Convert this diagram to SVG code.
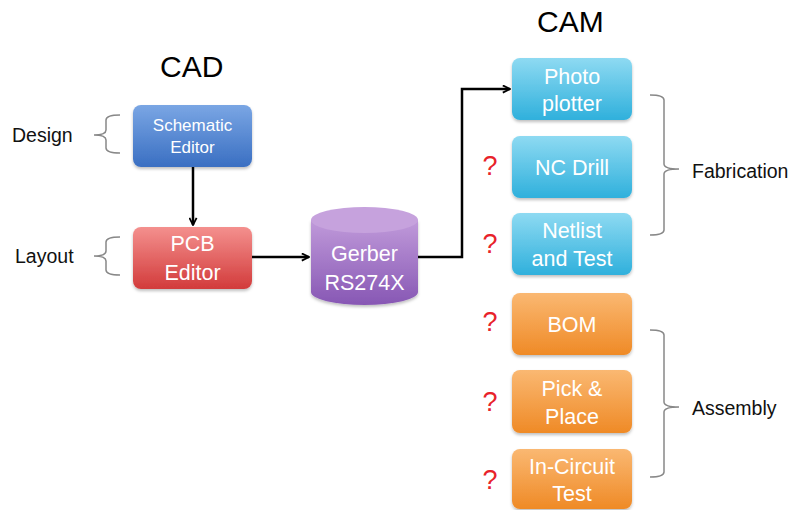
<svg xmlns="http://www.w3.org/2000/svg" width="795" height="510" viewBox="0 0 795 510">
<defs>
<linearGradient id="gBlue" x1="0" y1="0" x2="0" y2="1"><stop offset="0" stop-color="#7aa6e4"/><stop offset="1" stop-color="#3a6fc2"/></linearGradient>
<linearGradient id="gRed" x1="0" y1="0" x2="0" y2="1"><stop offset="0" stop-color="#f4908e"/><stop offset="1" stop-color="#d23b3b"/></linearGradient>
<linearGradient id="gCyan" x1="0" y1="0" x2="0" y2="1"><stop offset="0" stop-color="#8edaf2"/><stop offset="1" stop-color="#2fb0dc"/></linearGradient>
<linearGradient id="gOrange" x1="0" y1="0" x2="0" y2="1"><stop offset="0" stop-color="#fab872"/><stop offset="1" stop-color="#ef8a26"/></linearGradient>
<linearGradient id="gPurple" x1="0" y1="0" x2="0" y2="1"><stop offset="0" stop-color="#c09ada"/><stop offset="1" stop-color="#8757b4"/></linearGradient>
<marker id="arr" viewBox="0 0 10 10" refX="9" refY="5" markerWidth="9" markerHeight="9" markerUnits="userSpaceOnUse" orient="auto"><path d="M1,1 L9,5 L1,9" fill="none" stroke="#000" stroke-width="2"/></marker>
<filter id="sh" x="-10%" y="-10%" width="120%" height="130%"><feDropShadow dx="0" dy="2" stdDeviation="1.5" flood-color="#000" flood-opacity="0.25"/></filter>
</defs>
<style>
.bx{fill:#fff;font-size:21.5px;text-anchor:middle;font-family:"Liberation Sans",Arial,sans-serif;}
.lbl{fill:#111;font-size:19.5px;font-family:"Liberation Sans",Arial,sans-serif;}
.ttl{fill:#000;font-size:30px;font-family:"Liberation Sans",Arial,sans-serif;}
.q{fill:#e8222a;font-size:27px;text-anchor:middle;font-family:"Liberation Sans",Arial,sans-serif;}
.br{fill:none;stroke:#888;stroke-width:1.5;}
.cn{fill:none;stroke:#000;stroke-width:2.5;}
</style>
<rect width="795" height="510" fill="#fff"/>

<text class="ttl" x="160" y="77">CAD</text>
<text class="ttl" x="537" y="32">CAM</text>

<g id="connectors">
<path class="cn" d="M193,167 L193,225" marker-end="url(#arr)"/>
<path class="cn" d="M252,257 L309,257" marker-end="url(#arr)"/>
<path class="cn" d="M418,257 L462,257 L462,89 L510,89" marker-end="url(#arr)"/>
</g>

<g id="brackets">
<path class="br" d="M120,115 Q106,115 106,120 L106,130 Q106,135 94,135 Q106,135 106,140 L106,148 Q106,153 120,153"/>
<path class="br" d="M120,237 Q106,237 106,242 L106,251 Q106,256 94,256 Q106,256 106,261 L106,270 Q106,275 120,275"/>
<path class="br" d="M650,95 Q664,95 664,100 L664,164 Q664,169 679,169 Q664,169 664,174 L664,230 Q664,235 650,235"/>
<path class="br" d="M650,330 Q664,330 664,335 L664,402 Q664,407 679,407 Q664,407 664,412 L664,472 Q664,477 650,477"/>
</g>

<text class="lbl" x="12" y="142">Design</text>
<text class="lbl" x="15" y="263">Layout</text>
<text class="lbl" x="692" y="178">Fabrication</text>
<text class="lbl" x="692" y="415">Assembly</text>

<g id="schematic">
<rect x="133" y="105" width="119" height="62" rx="8" fill="url(#gBlue)" filter="url(#sh)"/>
<text class="bx" x="192.5" y="131" style="font-size:17px">Schematic</text>
<text class="bx" x="192.5" y="153" style="font-size:17px">Editor</text>
</g>
<g id="pcb">
<rect x="133" y="227" width="119" height="62" rx="8" fill="url(#gRed)" filter="url(#sh)"/>
<text class="bx" x="192.5" y="251">PCB</text>
<text class="bx" x="192.5" y="280">Editor</text>
</g>
<g id="gerber">
<path d="M311,220 L311,292 A53.5,13 0 0 0 418,292 L418,220 Z" fill="url(#gPurple)" filter="url(#sh)"/>
<ellipse cx="364.5" cy="220" rx="53.5" ry="13" fill="#c6a2dd"/>
<text class="bx" x="364.5" y="261">Gerber</text>
<text class="bx" x="364.5" y="290">RS274X</text>
</g>
<g id="photoplotter">
<rect x="512" y="58" width="120" height="62" rx="8" fill="url(#gCyan)" filter="url(#sh)"/>
<text class="bx" x="572" y="84">Photo</text>
<text class="bx" x="572" y="111">plotter</text>
</g>
<g id="ncdrill">
<rect x="512" y="136" width="120" height="62" rx="8" fill="url(#gCyan)" filter="url(#sh)"/>
<text class="bx" x="572" y="175">NC Drill</text>
</g>
<g id="netlist">
<rect x="512" y="213" width="120" height="62" rx="8" fill="url(#gCyan)" filter="url(#sh)"/>
<text class="bx" x="572" y="238">Netlist</text>
<text class="bx" x="572" y="266">and Test</text>
</g>
<g id="bom">
<rect x="512" y="293" width="120" height="62" rx="8" fill="url(#gOrange)" filter="url(#sh)"/>
<text class="bx" x="572" y="332">BOM</text>
</g>
<g id="pickplace">
<rect x="512" y="370" width="120" height="63" rx="8" fill="url(#gOrange)" filter="url(#sh)"/>
<text class="bx" x="572" y="396">Pick &amp;</text>
<text class="bx" x="572" y="424">Place</text>
</g>
<g id="incircuit">
<rect x="512" y="449" width="120" height="60" rx="8" fill="url(#gOrange)" filter="url(#sh)"/>
<text class="bx" x="572" y="474">In-Circuit</text>
<text class="bx" x="572" y="501">Test</text>
</g>

<text class="q" x="490" y="175">?</text>
<text class="q" x="490" y="253">?</text>
<text class="q" x="490" y="331">?</text>
<text class="q" x="490" y="411">?</text>
<text class="q" x="490" y="489">?</text>
</svg>
